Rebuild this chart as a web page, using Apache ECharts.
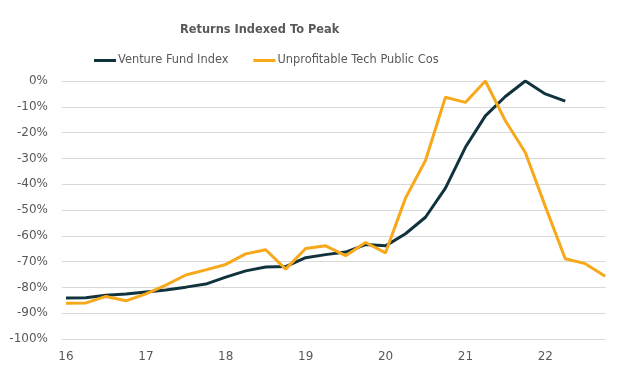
<!DOCTYPE html>
<html><head><meta charset="utf-8">
<script src="https://cdn.jsdelivr.net/npm/echarts@6/dist/echarts.min.js"></script>
<style>html,body{margin:0;padding:0;background:#fff}#c{width:628px;height:382px}</style>
</head><body><div id="c"></div>
<script>
const quarters = [16,16.25,16.5,16.75,17,17.25,17.5,17.75,18,18.25,18.5,18.75,19,19.25,19.5,19.75,20,20.25,20.5,20.75,21,21.25,21.5,21.75,22,22.25,22.5,22.75];
const yearTicks = [16,17,18,19,20,21,22];
const ventureFund = [-84.1,-84,-83,-82.6,-81.8,-81,-79.9,-78.7,-76,-73.6,-72.1,-71.9,-68.5,-67.3,-66.3,-63.4,-63.9,-59.2,-52.8,-41.5,-25.7,-13.5,-6,0,-5,-7.8];
const unprofitableTech = [-86.1,-86,-83.5,-85.2,-82.5,-79.1,-75.2,-73.2,-71.1,-67,-65.4,-72.9,-64.9,-63.9,-67.7,-62.6,-66.6,-45.4,-30.8,-6.3,-8.3,0,-15.4,-27.7,-48.6,-68.9,-70.8,-75.7];
const seriesNames = ['Venture Fund Index','Unprofitable Tech Public Cos'];

const font = 'DejaVu Sans';
const grey = '#595959';
const chart = echarts.init(document.getElementById('c'));
chart.setOption({
  animation:false,
  title:{text:'Returns Indexed To Peak',left:175,top:20,textStyle:{fontFamily:font,fontSize:11.4,fontWeight:'bold',color:grey}},
  legend:{left:94,top:55,padding:0,itemWidth:22,itemHeight:3,itemGap:25,icon:'rect',
    textStyle:{fontFamily:font,fontSize:11.4,color:grey,padding:[0,0,0,-3]},data:seriesNames},
  grid:{left:62,right:22,top:81,bottom:43,containLabel:false},
  xAxis:{type:'value',min:15.95,max:22.76,
    axisLine:{show:false},axisTick:{show:false},splitLine:{show:false},
    axisLabel:{customValues:yearTicks,margin:12,fontFamily:font,fontSize:12,color:grey,formatter:v=>String(v)}},
  yAxis:{type:'value',min:-100,max:0,interval:10,
    axisLine:{show:false},axisTick:{show:false},
    splitLine:{lineStyle:{color:'#d9d9d9',width:1}},
    axisLabel:{margin:14,fontFamily:font,fontSize:12,color:grey,formatter:v=>v+'%'}},
  series:[
    {name:seriesNames[0],type:'line',data:ventureFund.map((v,i)=>[quarters[i],v]),showSymbol:false,symbol:'none',
      lineStyle:{color:'#11333d',width:3},itemStyle:{color:'#11333d'}},
    {name:seriesNames[1],type:'line',data:unprofitableTech.map((v,i)=>[quarters[i],v]),showSymbol:false,symbol:'none',
      lineStyle:{color:'#f7a81b',width:3},itemStyle:{color:'#f7a81b'}}
  ]
});
</script></body></html>
